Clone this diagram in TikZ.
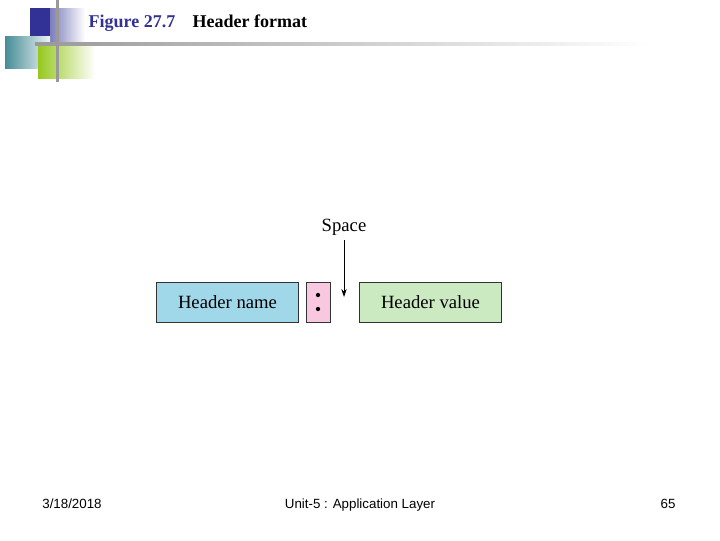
\documentclass[tikz,border=0pt]{standalone}
\usepackage{fontspec}
\setmainfont{Liberation Serif}
\newfontfamily\sansf{Liberation Sans}
\usetikzlibrary{arrows.meta}
\definecolor{dblue}{RGB}{50,50,150}
\definecolor{tealc}{RGB}{70,140,150}
\definecolor{limec}{RGB}{150,200,30}
\definecolor{boxblue}{RGB}{160,216,234}
\definecolor{boxpink}{RGB}{247,200,224}
\definecolor{boxgreen}{RGB}{204,234,194}
\tikzset{field/.style={draw=black!80,line width=0.6pt,minimum height=30pt,inner sep=0pt,font=\fontsize{14}{16}\selectfont},
foot/.style={font=\sansf\fontsize{10}{12}\selectfont,anchor=base}}
\begin{document}
\begin{tikzpicture}[x=0.75pt,y=-0.75pt]
\useasboundingbox (0,0) rectangle (720,540);
% decoration
\shade[left color=dblue,right color=white] (30,8) rectangle (85,42);
\shade[left color=tealc,right color=white!90!tealc] (5,36) rectangle (50,68);
\shade[left color=limec,right color=white] (38,45) rectangle (95,78);
\fill[dblue] (30,8) rectangle (50,36);
\shade[left color=gray!80,right color=white] (35,42) rectangle (650,45);
\fill[gray!80] (56,0) rectangle (59,82);
\node[anchor=base west,text=dblue,font=\bfseries\fontsize{13.5}{16}\selectfont] (fig) at (84,27) {Figure 27.7};
\node[anchor=base west,font=\bfseries\fontsize{13.5}{16}\selectfont] (title) at (188,27) {Header format};
% diagram
\node[field,fill=boxblue,minimum width=107pt] (name) at (227.5,302) {Header name};
\node[field,fill=boxpink,minimum width=18pt] (colon) at (318,302) {};
\fill (colon.center)+(0,-7) circle (1.6pt);
\fill (colon.center)+(0,7) circle (1.6pt);
\node[field,fill=boxgreen,minimum width=107pt] (value) at (430.5,302) {Header value};
\node[font=\fontsize{14}{16}\selectfont] (space) at (344,227) {Space};
\coordinate (tip) at (344,297);
\draw[-{Stealth[length=6pt,width=4pt]},line width=0.6pt] (space.south) -- (tip);
% footer
\node[foot] (date) at (72,508) {3/18/2018};
\node[foot] (mid) at (360,508) {Unit-5 : Application Layer};
\node[foot] (page) at (668,508) {65};
\end{tikzpicture}
\end{document}
